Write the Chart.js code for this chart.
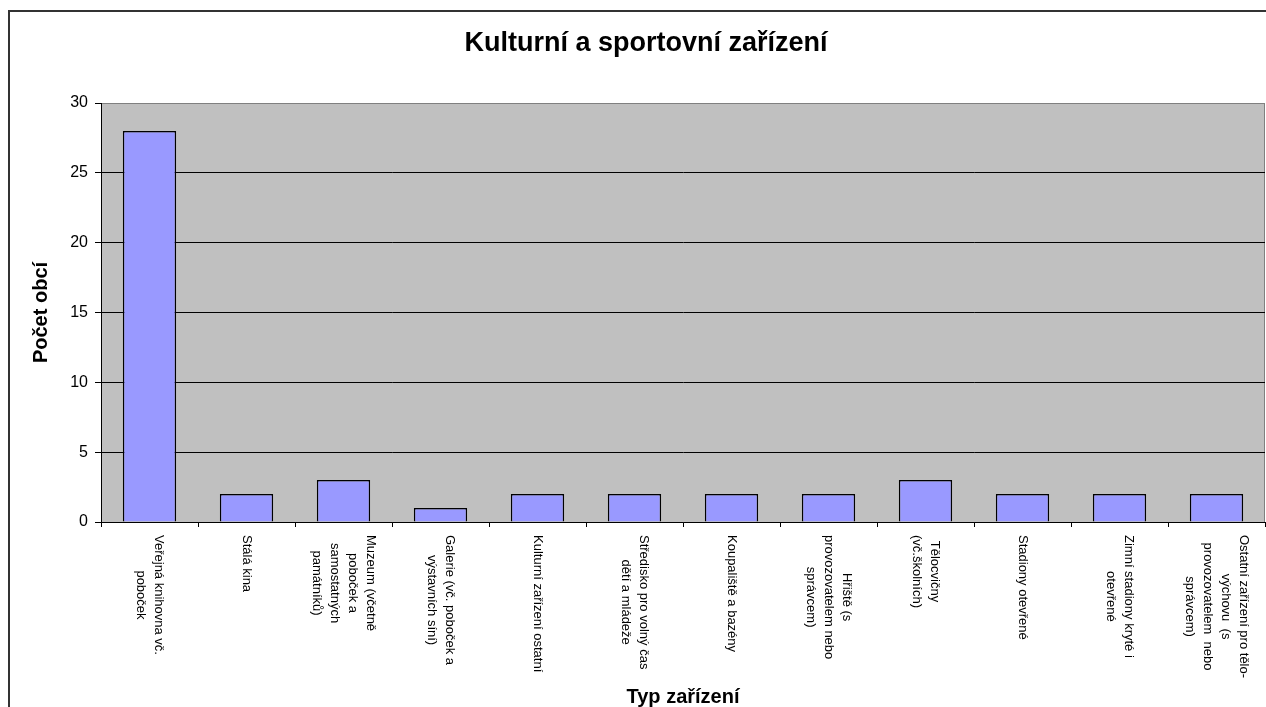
<!DOCTYPE html>
<html>
<head>
<meta charset="utf-8">
<script src="https://cdn.jsdelivr.net/npm/chart.js@4"></script>
<style>
html,body{margin:0;padding:0;background:#fff;overflow:hidden;}
</style>
</head>
<body>
<canvas id="chart" width="1302" height="707"></canvas>
<script>

const chartTitle = "Kulturní a sportovní zařízení";
const xTitle = "Typ zařízení";
const yTitle = "Počet obcí";

const categories = [
["Veřejná knihovna vč.", "poboček"],
["Stálá kina"],
["Muzeum (včetně", "poboček a", "samostatných", "památníků)"],
["Galerie (vč. poboček a", "výstavních síní)"],
["Kulturní zařízení ostatní"],
["Středisko pro volný čas", "dětí a mládeže"],
["Koupaliště a bazény"],
["Hřiště (s", "provozovatelem nebo", "správcem)"],
["Tělocvičny", "(vč.školních)"],
["Stadiony otevřené"],
["Zimní stadiony kryté i", "otevřené"],
["Ostatní zařízení pro tělo-", "výchovu  (s", "provozovatelem  nebo", "správcem)"]
];

const counts = [28, 2, 3, 1, 2, 2, 2, 2, 3, 2, 2, 2];

const yMin = 0;
const yMax = 30;
const yStep = 5;

const FONT = "'Liberation Sans', Arial, sans-serif";

// grey plot area + outer frame
const backdrop = {
id: "backdrop",
beforeDraw(chart){
const ctx = chart.ctx;
const a = chart.chartArea;
ctx.save();
ctx.strokeStyle = "#333";
ctx.lineWidth = 2;
ctx.strokeRect(9, 11, 1284, 760);
ctx.fillStyle = "#c0c0c0";
ctx.fillRect(a.left, a.top, a.right - a.left, a.bottom - a.top);
ctx.strokeStyle = "#808080";
ctx.lineWidth = 1;
ctx.beginPath();
ctx.moveTo(a.left, a.top + 0.5);
ctx.lineTo(a.right - 0.5, a.top + 0.5);
ctx.lineTo(a.right - 0.5, a.bottom);
ctx.stroke();
ctx.restore();
}
};

// vertical category labels, reading top to bottom
const verticalLabels = {
id: "verticalLabels",
afterDraw(chart){
const ctx = chart.ctx;
const xs = chart.scales.x;
const lh = 18;
ctx.save();
ctx.font = "13px " + FONT;
ctx.fillStyle = "#000";
ctx.textAlign = "center";
ctx.textBaseline = "middle";
categories.forEach((lines, i) => {
const x = xs.getPixelForValue(i);
let w = 0;
lines.forEach(l => { w = Math.max(w, ctx.measureText(l).width); });
ctx.save();
ctx.translate(x, xs.top + 13);
ctx.rotate(Math.PI / 2);
lines.forEach((l, j) => {
ctx.fillText(l, w / 2, (j - (lines.length - 1) / 2) * lh);
});
ctx.restore();
});
ctx.restore();
}
};

new Chart(document.getElementById("chart"), {
type: "bar",
data: {
labels: categories.map(c => c.join(" ")),
datasets: [{
data: counts,
backgroundColor: "#9999ff",
borderColor: "#000",
borderWidth: 1.5,
barPercentage: 0.55,
categoryPercentage: 1
}]
},
options: {
responsive: false,
animation: false,
layout: { padding: { left: 27, right: 37, top: 0, bottom: 0 } },
plugins: {
legend: { display: false },
tooltip: { enabled: false },
title: {
display: true,
text: chartTitle,
color: "#000",
font: { family: FONT, size: 27, weight: "bold" },
padding: { top: 27, bottom: 43.6 }
}
},
scales: {
x: {
offset: true,
border: { color: "#000", width: 1 },
grid: {
offset: true,
drawOnChartArea: false,
color: "#000",
tickColor: "#000",
tickLength: 5
},
ticks: { display: false },
title: {
display: true,
text: xTitle,
color: "#000",
font: { family: FONT, size: 20, weight: "bold" },
padding: { top: 0, bottom: -2 }
},
afterFit(scale){ scale.height = 185; }
},
y: {
min: yMin,
max: yMax,
border: { color: "#000", width: 1 },
grid: {
color: c => (c.tick && c.tick.value === yMax) ? "#808080" : "#000",
tickColor: "#000",
tickLength: 6
},
ticks: {
stepSize: yStep,
color: "#000",
padding: 7,
font: { family: FONT, size: 16 }
},
title: {
display: true,
text: yTitle,
color: "#000",
font: { family: FONT, size: 20, weight: "bold" },
padding: { top: 2, bottom: 0 }
},
afterFit(scale){ scale.width = 74; }
}
}
},
plugins: [backdrop, verticalLabels]
});

</script>
</body>
</html>
